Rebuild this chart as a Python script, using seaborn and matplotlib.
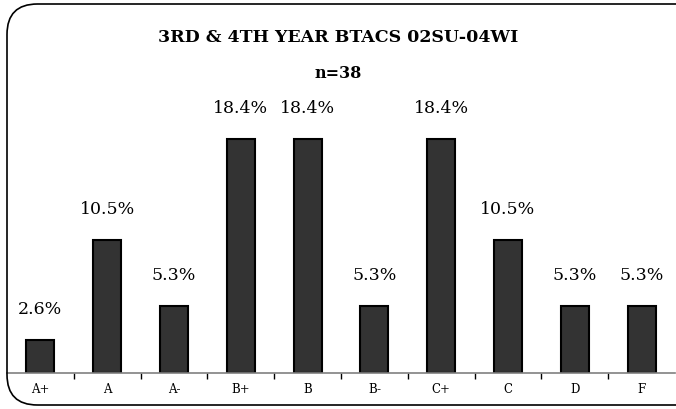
import pandas as pd
import seaborn as sns
import matplotlib.pyplot as plt
from matplotlib.patches import FancyBboxPatch

# dados
grades = ['A+', 'A', 'A-', 'B+', 'B', 'B-', 'C+', 'C', 'D', 'F']
pct = [2.6, 10.5, 5.3, 18.4, 18.4, 5.3, 18.4, 10.5, 5.3, 5.3]
title = '3RD & 4TH YEAR BTACS 02SU-04WI'
subtitle = 'n=38'

df = pd.DataFrame({'grade': grades, 'pct': pct})

sns.set_style('white')
plt.rcParams['font.family'] = ['DejaVu Serif']
plt.rcParams['text.color'] = 'black'
plt.rcParams['xtick.color'] = 'black'
plt.rcParams['xtick.labelcolor'] = 'black'

fig = plt.figure(figsize=(6.76, 4.09), dpi=100)
ax = fig.add_axes([7 / 676, 36 / 409, 668 / 676, 254 / 409])

sns.barplot(data=df, x='grade', y='pct', color='#333333', width=0.42,
            edgecolor='black', linewidth=1.5, saturation=1, ax=ax)

for i, v in enumerate(pct):
    ax.annotate(f'{v:.1f}%', (i, v), xytext=(0, 22), textcoords='offset points',
                ha='center', va='center', fontsize=12.5, color='black')

ax.set_ylim(0, 20)
ax.set_xlim(-0.5, len(grades) - 0.5)
ax.set_xlabel('')
ax.set_ylabel('')
ax.set_yticks([])
for s in ['top', 'left', 'right']:
    ax.spines[s].set_visible(False)
ax.spines['bottom'].set_color('#808080')
ax.spines['bottom'].set_linewidth(1.2)

# marcas entre categorias
ax.set_xticks([i + 0.5 for i in range(len(grades) - 1)], minor=True)
ax.tick_params(axis='x', which='minor', bottom=True, length=4, width=1,
               color='black', direction='out')
ax.tick_params(axis='x', which='major', length=0, labelsize=8.5, pad=7)

fig.text(0.5, 1 - 38 / 409, title, ha='center', va='center', fontsize=12.5, fontweight='bold')
fig.text(0.5, 1 - 73 / 409, subtitle, ha='center', va='center', fontsize=11.5, fontweight='bold')

# moldura arredondada
box = FancyBboxPatch((7 / 676, 4 / 409), 700 / 676, 401 / 409,
                     boxstyle='round,pad=0,rounding_size=0.045',
                     transform=fig.transFigure, fill=False, edgecolor='black',
                     linewidth=1.2, mutation_aspect=676 / 409, clip_on=False)
fig.patches.append(box)

fig.savefig('out.png', dpi=100)
